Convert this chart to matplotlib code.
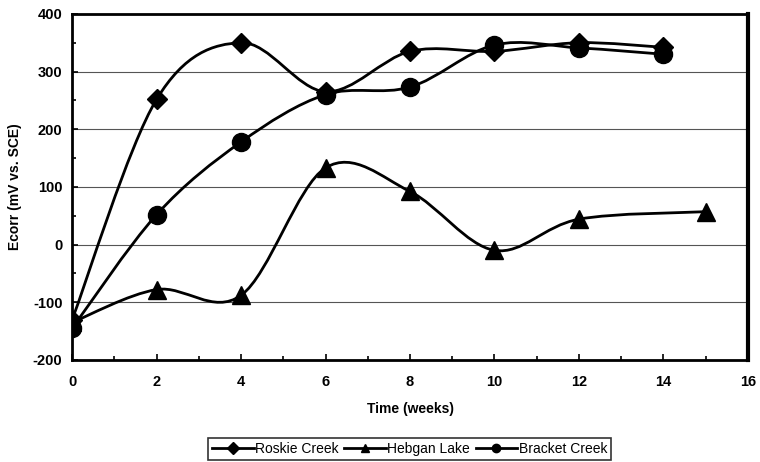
import matplotlib.pyplot as plt
from matplotlib.path import Path
from matplotlib.patches import PathPatch
from matplotlib.lines import Line2D
from matplotlib.ticker import MultipleLocator

plt.rcParams['font.family'] = ['Liberation Sans', 'DejaVu Sans']
plt.rcParams['axes.unicode_minus'] = False

# weeks and Ecorr values
roskie_weeks = [0, 2, 4, 6, 8, 10, 12, 14]
roskie_ecorr = [-130, 252, 350, 265, 335, 335, 350, 342]

hebgan_weeks = [0, 2, 4, 6, 8, 10, 12, 15]
hebgan_ecorr = [-135, -78, -88, 133, 92, -10, 44, 57]

bracket_weeks = [0, 2, 4, 6, 8, 10, 12, 14]
bracket_ecorr = [-145, 52, 178, 260, 273, 346, 341, 330]


def smooth_path(xs, ys):
    # Excel-like smoothed line: cubic bezier through the points
    pts = list(zip(xs, ys))
    verts = [pts[0]]
    codes = [Path.MOVETO]
    n = len(pts)
    for i in range(n - 1):
        p0 = pts[max(i - 1, 0)]
        p1 = pts[i]
        p2 = pts[i + 1]
        p3 = pts[min(i + 2, n - 1)]
        c1 = (p1[0] + (p2[0] - p0[0]) / 6, p1[1] + (p2[1] - p0[1]) / 6)
        c2 = (p2[0] - (p3[0] - p1[0]) / 6, p2[1] - (p3[1] - p1[1]) / 6)
        verts += [c1, c2, p2]
        codes += [Path.CURVE4] * 3
    return Path(verts, codes)


fig = plt.figure(figsize=(7.6, 4.62), dpi=100)
ax = fig.add_axes([0.095, 0.221, 0.889, 0.749])

series = [
    ('Roskie Creek', roskie_weeks, roskie_ecorr, 'D', 10),
    ('Hebgan Lake', hebgan_weeks, hebgan_ecorr, '^', 13),
    ('Bracket Creek', bracket_weeks, bracket_ecorr, 'o', 13),
]

handles = []
for name, xs, ys, mk, ms in series:
    ax.add_patch(PathPatch(smooth_path(xs, ys), facecolor='none',
                           edgecolor='black', lw=2, zorder=3))
    ax.plot(xs, ys, linestyle='none', marker=mk, ms=ms, color='black', zorder=4)
    handles.append(Line2D([], [], color='black', lw=2, marker=mk, ms=6))

ax.set_xlim(0, 16)
ax.set_ylim(-200, 400)
ax.xaxis.set_major_locator(MultipleLocator(2))
ax.xaxis.set_minor_locator(MultipleLocator(1))
ax.yaxis.set_major_locator(MultipleLocator(100))
ax.yaxis.set_minor_locator(MultipleLocator(50))
ax.tick_params(which='both', direction='in', top=False, right=False)
ax.tick_params(which='major', length=4, width=1.2, labelsize=10.5)
ax.tick_params(which='minor', length=3, width=1.2)
ax.tick_params(axis='x', which='major', pad=11)
ax.tick_params(axis='y', which='major', pad=7)
for lbl in ax.get_xticklabels() + ax.get_yticklabels():
    lbl.set_fontweight('bold')

ax.grid(True, axis='y', color='#555555', lw=0.8)
ax.set_axisbelow(True)
for s in ['left', 'bottom', 'top']:
    ax.spines[s].set_linewidth(2)
ax.spines['right'].set_linewidth(3)

ax.set_xlabel('Time (weeks)', fontweight='bold', fontsize=10, labelpad=9)
ax.set_ylabel('Ecorr (mV vs. SCE)', fontweight='bold', fontsize=10, labelpad=8)

leg = fig.legend(handles, [s[0] for s in series], loc='center',
                 bbox_to_anchor=(0.539, 0.028), ncol=3, frameon=True,
                 fancybox=False, edgecolor='black', fontsize=10,
                 handlelength=3.0, handletextpad=0.1, columnspacing=0.4,
                 borderpad=0.3)
leg.get_frame().set_linewidth(1.2)

fig.savefig('out.png', dpi=100)
